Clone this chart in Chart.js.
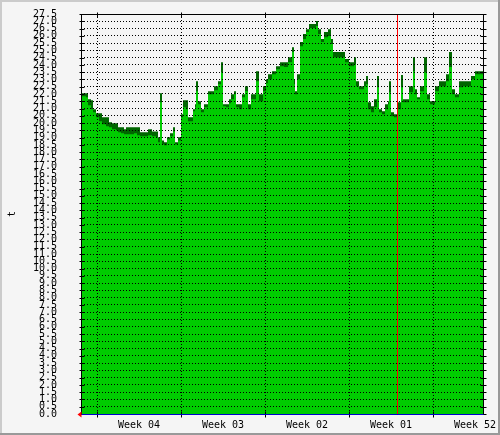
<!DOCTYPE html>
<html>
<head>
<meta charset="utf-8">
<script src="https://cdn.jsdelivr.net/npm/chart.js@4"></script>
<style>
  html, body { margin: 0; padding: 0; background: #f5f5f5; }
  #wrap { width: 500px; height: 435px; }
</style>
</head>
<body>
<div id="wrap"><canvas id="tempChart"></canvas></div>
<script>
// hours since start of the graph window (2 h per sample pixel)
const hours = [0, 10, 14, 20, 24, 30, 36, 42, 50, 56, 62, 70, 74, 80, 86, 90, 98, 106, 112, 118,
  126, 134, 142, 150, 154, 158, 162, 166, 172, 178, 184, 188, 194, 200, 204, 210, 214, 220, 224, 228,
  230, 234, 240, 246, 254, 260, 266, 274, 280, 284, 290, 296, 300, 306, 310, 316, 322, 328, 334, 340,
  346, 350, 356, 364, 370, 374, 382, 390, 398, 406, 414, 422, 426, 428, 432, 438, 444, 450, 456, 464,
  470, 474, 480, 486, 494, 500, 504, 514, 522, 528, 536, 542, 546, 550, 556, 562, 566, 570, 574, 580,
  586, 592, 596, 602, 608, 614, 616, 620, 626, 632, 640, 644, 650, 656, 662, 664, 668, 672, 678, 682,
  686, 692, 698, 704, 708, 716, 724, 730, 736, 742, 748, 756, 764, 772, 780, 788, 796, 804];

const maxTemps = [22.05, 22.05, 21.64, 21.57, 20.95, 20.68, 20.68, 20.40, 20.40, 20.05, 19.99, 19.99, 19.71, 19.71, 19.57, 19.71, 19.71, 19.71, 19.71, 19.37,
  19.37, 19.57, 19.43, 19.43, 19.02, 22.05, 18.81, 18.68, 19.02, 19.30, 19.71, 18.68, 19.02, 20.61, 21.57, 21.57, 20.40, 20.40, 20.95, 21.30,
  22.88, 21.50, 20.95, 21.30, 22.19, 22.19, 22.54, 22.88, 24.19, 21.30, 21.30, 21.64, 21.98, 22.19, 21.30, 21.30, 21.98, 22.54, 21.30, 21.98,
  21.98, 23.57, 21.98, 22.54, 23.02, 23.36, 23.57, 23.91, 24.19, 24.19, 24.53, 25.22, 23.02, 22.19, 23.36, 25.57, 26.12, 26.46, 26.81, 26.81,
  27.02, 26.46, 25.78, 26.26, 26.46, 25.78, 24.88, 24.88, 24.88, 24.40, 24.19, 24.19, 24.53, 22.88, 22.54, 22.54, 22.88, 23.23, 21.43, 21.16,
  21.64, 23.23, 20.95, 20.81, 21.30, 21.50, 22.88, 20.74, 20.61, 21.43, 23.30, 21.64, 21.64, 22.54, 22.54, 24.53, 22.33, 21.78, 22.54, 22.54,
  24.53, 21.98, 21.50, 21.50, 22.54, 22.88, 22.88, 23.36, 24.88, 22.33, 21.98, 22.88, 22.88, 22.88, 23.23, 23.57, 23.57, 23.57];

const avgTemps = [21.85, 21.78, 21.23, 20.95, 20.74, 20.40, 20.12, 19.92, 19.78, 19.71, 19.57, 19.50, 19.37, 19.30, 19.23, 19.23, 19.23, 19.30, 19.16, 19.09,
  19.09, 19.16, 19.09, 19.02, 18.68, 21.43, 18.54, 18.47, 18.88, 19.09, 19.43, 18.54, 18.81, 20.40, 21.09, 20.95, 20.12, 20.12, 20.81, 21.09,
  22.19, 21.30, 20.74, 21.09, 21.98, 21.98, 22.26, 22.67, 23.50, 21.16, 21.09, 21.36, 21.64, 21.98, 21.09, 20.95, 21.78, 22.19, 20.95, 21.64,
  21.64, 22.88, 21.50, 22.19, 22.74, 23.02, 23.36, 23.71, 23.91, 23.85, 24.19, 24.88, 22.67, 21.98, 23.02, 25.29, 25.78, 26.26, 26.53, 26.53,
  26.67, 26.12, 25.57, 25.91, 25.98, 25.43, 24.53, 24.53, 24.53, 24.19, 23.91, 23.91, 24.05, 22.54, 22.33, 22.33, 22.54, 22.67, 20.95, 20.74,
  21.09, 22.47, 20.74, 20.61, 20.95, 21.30, 22.12, 20.47, 20.40, 20.95, 22.47, 21.43, 21.43, 22.12, 22.12, 23.57, 21.98, 21.64, 22.19, 22.19,
  23.50, 21.64, 21.30, 21.30, 22.19, 22.54, 22.54, 22.88, 23.85, 21.98, 21.78, 22.47, 22.54, 22.54, 23.02, 23.36, 23.36, 23.36];

const weekLines = [32, 200, 368, 536, 704];
const weekLabelHours = [116, 284, 452, 620, 788];
const weekLabels = ['Week 04', 'Week 03', 'Week 02', 'Week 01', 'Week 52'];
const nowHour = 632;
const yMin = 0;
const yMax = 27.5;
const yStep = 0.5;

const monoFont = { family: 'DejaVu Sans Mono', size: 10 };

// rrd style frame, red "now" line, axis arrow and small tick marks
const rrdDecor = {
  id: 'rrdDecor',
  beforeDraw(chart) {
    const ctx = chart.ctx;
    ctx.save();
    ctx.fillStyle = '#f5f5f5';
    ctx.fillRect(0, 0, chart.width, chart.height);
    ctx.restore();
  },
  afterDatasetsDraw(chart) {
    const ctx = chart.ctx;
    const a = chart.chartArea;
    const nx = Math.round(chart.scales.x.getPixelForValue(nowHour)) + 0.5;
    ctx.save();
    ctx.strokeStyle = '#ff0000';
    ctx.lineWidth = 1;
    ctx.beginPath();
    ctx.moveTo(nx, a.top);
    ctx.lineTo(nx, a.bottom);
    ctx.stroke();
    ctx.restore();
  },
  afterDraw(chart) {
    const ctx = chart.ctx;
    const a = chart.chartArea;
    const l = Math.round(a.left) + 0.5, r = Math.round(a.right) + 0.5;
    const t = Math.round(a.top) + 0.5, b = Math.round(a.bottom) + 0.5;
    ctx.save();
    ctx.lineWidth = 1;
    ctx.strokeStyle = '#000';
    ctx.strokeRect(l, t, r - l, b - t);

    // tick marks on left / right edges
    ctx.beginPath();
    chart.scales.y.ticks.forEach(tk => {
      const y = Math.round(chart.scales.y.getPixelForValue(tk.value)) + 0.5;
      ctx.moveTo(l - 2, y); ctx.lineTo(l + 3, y);
      ctx.moveTo(r - 3, y); ctx.lineTo(r + 3, y);
    });
    weekLines.forEach(h => {
      const x = Math.round(chart.scales.x.getPixelForValue(h)) + 0.5;
      ctx.moveTo(x, b - 3); ctx.lineTo(x, b + 3);
      ctx.moveTo(x, t - 2); ctx.lineTo(x, t + 3);
    });
    ctx.stroke();

    // zero line
    ctx.strokeStyle = '#0000cc';
    ctx.beginPath();
    ctx.moveTo(l, b); ctx.lineTo(r, b);
    ctx.stroke();

    // red arrow at origin
    ctx.fillStyle = '#ff0000';
    ctx.beginPath();
    ctx.moveTo(l - 4, b);
    ctx.lineTo(l, b - 3);
    ctx.lineTo(l, b + 3);
    ctx.closePath();
    ctx.fill();

    // outer 3d frame
    ctx.fillStyle = '#cbcbcb';
    ctx.fillRect(0, 0, chart.width, 2);
    ctx.fillRect(0, 0, 2, chart.height);
    ctx.fillStyle = '#999999';
    ctx.fillRect(chart.width - 2, 0, 2, chart.height);
    ctx.fillRect(0, chart.height - 2, chart.width, 2);
    ctx.restore();
  }
};

new Chart(document.getElementById('tempChart'), {
  type: 'line',
  data: {
    labels: hours,
    datasets: [{
      label: 'avg',
      data: hours.map((h, i) => ({ x: h, y: avgTemps[i] })),
      backgroundColor: '#00cc00',
      borderColor: 'rgba(0,0,0,0)',
      borderWidth: 0,
      fill: 'origin',
      stepped: true,
      pointRadius: 0
    }, {
      label: 'max',
      data: hours.map((h, i) => ({ x: h, y: maxTemps[i] })),
      backgroundColor: '#006600',
      borderColor: 'rgba(0,0,0,0)',
      borderWidth: 0,
      fill: 'origin',
      stepped: true,
      pointRadius: 0
    }]
  },
  options: {
    responsive: true,
    maintainAspectRatio: false,
    animation: false,
    layout: { padding: { top: 14, right: 17, left: 0, bottom: 0 } },
    plugins: {
      legend: { display: false },
      tooltip: { enabled: false }
    },
    scales: {
      x: {
        type: 'linear',
        min: 0,
        max: 804,
        afterBuildTicks(scale) {
          scale.ticks = weekLines.concat(weekLabelHours).sort((p, q) => p - q).map(v => ({ value: v }));
        },
        afterFit(scale) { scale.height = 21; },
        grid: {
          z: 1,
          drawTicks: true,
          tickLength: 5,
          tickColor: 'rgba(0,0,0,0)',
          color: ctx => (ctx.tick && weekLines.includes(ctx.tick.value)) ? '#000' : 'rgba(0,0,0,0)',
          lineWidth: 1
        },
        border: { display: false, dash: [1, 2] },
        ticks: {
          autoSkip: false,
          maxRotation: 0,
          padding: 0,
          color: '#000',
          font: monoFont,
          callback: v => {
            const i = weekLabelHours.indexOf(v);
            return i >= 0 ? weekLabels[i] : '';
          }
        }
      },
      y: {
        min: yMin,
        max: yMax,
        afterFit(scale) { scale.width = 81; },
        grid: {
          z: 1,
          drawTicks: true,
          tickLength: 24,
          tickColor: 'rgba(0,0,0,0)',
          color: '#000',
          lineWidth: 1
        },
        border: { display: false, dash: [1, 2] },
        ticks: {
          stepSize: yStep,
          autoSkip: false,
          padding: 0,
          color: '#000',
          font: monoFont,
          callback: v => v.toFixed(1)
        },
        title: {
          display: true,
          text: 't',
          color: '#000',
          font: monoFont,
          padding: { top: 6, bottom: 0 }
        }
      }
    }
  },
  plugins: [rrdDecor]
});
</script>
</body>
</html>
